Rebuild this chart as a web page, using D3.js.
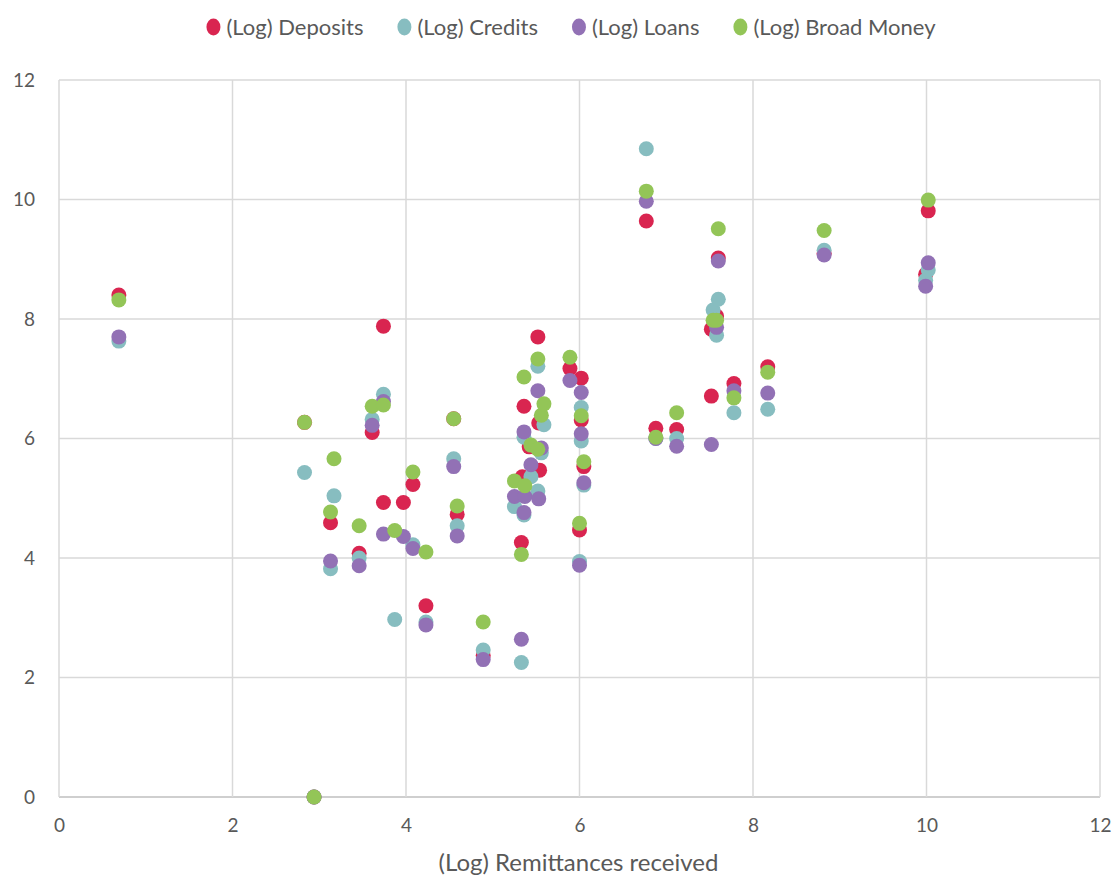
<!DOCTYPE html>
<html>
<head>
<meta charset="utf-8">
<script src="https://cdn.jsdelivr.net/npm/d3@7"></script>
<style>
  body { margin: 0; background: #fff; }
  svg text { font-family: Lato, "Open Sans", sans-serif; fill: #595959; }
</style>
</head>
<body>
<svg id="chart" width="1114" height="878"></svg>
<script>
// series names, drawing order = legend order
var seriesNames = ['(Log) Deposits', '(Log) Credits', '(Log) Loans', '(Log) Broad Money']
var xTicks = [0, 2, 4, 6, 8, 10, 12]
var yTicks = [0, 2, 4, 6, 8, 10, 12]

// [log remittances, value] pairs
var deposits = [
  [0.69, 8.40], [2.83, 6.27], [2.94, 0], [3.13, 4.59], [3.46, 4.08], [3.61, 6.10],
  [3.74, 7.88], [3.74, 4.93], [3.97, 4.93], [4.08, 5.23], [4.23, 3.20], [4.55, 6.33],
  [4.59, 4.73], [4.89, 2.37], [5.33, 4.26], [5.36, 6.54], [5.34, 5.36], [5.42, 5.86],
  [5.52, 7.70], [5.53, 6.26], [5.54, 5.47], [5.89, 7.17], [6.02, 7.01], [6.02, 6.31],
  [6.05, 5.53], [6.00, 4.47], [6.77, 9.64], [6.88, 6.17], [7.12, 6.15], [7.52, 6.71],
  [7.52, 7.83], [7.58, 8.05], [7.60, 9.02], [7.78, 6.92], [8.17, 7.20], [8.82, 9.10],
  [9.99, 8.75], [10.02, 9.81]
]
var credits = [
  [0.69, 7.63], [2.83, 5.43], [2.94, 0], [3.13, 3.82], [3.17, 5.04], [3.46, 4.00],
  [3.61, 6.32], [3.74, 6.74], [3.87, 2.97], [4.08, 4.22], [4.23, 2.93], [4.55, 5.66],
  [4.59, 4.54], [4.89, 2.46], [5.25, 4.86], [5.33, 2.25], [5.36, 6.02], [5.36, 4.72],
  [5.44, 5.36], [5.52, 7.21], [5.52, 5.12], [5.56, 5.76], [5.59, 6.23], [6.00, 3.94],
  [6.02, 6.52], [6.02, 5.96], [6.05, 5.22], [6.77, 10.85], [6.88, 6.00], [7.12, 6.00],
  [7.54, 8.15], [7.58, 7.73], [7.60, 8.33], [7.78, 6.43], [8.17, 6.49], [8.82, 9.15],
  [9.99, 8.65], [10.02, 8.82]
]
var loans = [
  [0.69, 7.70], [2.94, 0], [3.13, 3.95], [3.46, 3.87],
  [3.61, 6.22], [3.74, 6.62], [3.74, 4.40], [3.97, 4.36], [4.08, 4.16], [4.23, 2.88],
  [4.55, 5.53], [4.59, 4.37], [4.89, 2.30], [5.25, 5.03], [5.33, 2.64], [5.36, 6.11],
  [5.37, 5.03], [5.36, 4.76], [5.44, 5.56], [5.52, 6.80], [5.53, 4.99], [5.56, 5.84],
  [5.89, 6.97], [6.00, 3.88], [6.02, 6.77], [6.02, 6.08], [6.05, 5.26], [6.77, 9.97],
  [6.88, 6.00], [7.12, 5.87], [7.52, 5.90], [7.58, 7.86], [7.60, 8.97], [7.78, 6.80],
  [8.17, 6.76], [8.82, 9.07], [9.99, 8.55], [10.02, 8.94]
]
var broadMoney = [
  [0.69, 8.32], [2.83, 6.27], [2.94, 0], [3.13, 4.77], [3.17, 5.66], [3.46, 4.54],
  [3.61, 6.54], [3.74, 6.56], [3.87, 4.46], [4.08, 5.44], [4.23, 4.10], [4.55, 6.33],
  [4.59, 4.87], [4.89, 2.93], [5.25, 5.29], [5.36, 7.03], [5.33, 4.06], [5.37, 5.21],
  [5.44, 5.89], [5.52, 7.33], [5.52, 5.82], [5.56, 6.39], [5.59, 6.58], [5.89, 7.36],
  [6.00, 4.58], [6.02, 6.38], [6.05, 5.61], [6.77, 10.14], [6.88, 6.02], [7.12, 6.43],
  [7.54, 7.98], [7.58, 7.98], [7.60, 9.51], [7.78, 6.68], [8.17, 7.11], [8.82, 9.48],
  [10.02, 9.99]
]

var colors = ['#d92550', '#87bdc0', '#9271b5', '#93c557']
var allSeries = [deposits, credits, loans, broadMoney]

var margin = { left: 59, right: 14, top: 80, bottom: 81 }
var width = 1114 - margin.left - margin.right
var height = 878 - margin.top - margin.bottom

var x = d3.scaleLinear().domain([0, 12]).range([0, width])
var y = d3.scaleLinear().domain([0, 12]).range([height, 0])

var svg = d3.select('#chart')
var g = svg.append('g').attr('transform', 'translate(' + margin.left + ',' + margin.top + ')')

// gridlines
g.append('g').selectAll('line').data(yTicks).join('line')
  .attr('x1', 0).attr('x2', width)
  .attr('y1', d => y(d)).attr('y2', d => y(d))
  .attr('stroke', d => d === 0 ? '#bfbfbf' : '#d9d9d9')
  .attr('stroke-width', 1.5)
g.append('g').selectAll('line').data(xTicks).join('line')
  .attr('x1', d => x(d)).attr('x2', d => x(d))
  .attr('y1', 0).attr('y2', height)
  .attr('stroke', '#d9d9d9')
  .attr('stroke-width', 1.5)

// axes (labels only)
var yAxis = g.append('g').call(d3.axisLeft(y).tickValues(yTicks).tickSize(0).tickPadding(24))
yAxis.select('.domain').remove()
yAxis.selectAll('text').style('font-size', '19px')

var xAxis = g.append('g').attr('transform', 'translate(0,' + height + ')')
  .call(d3.axisBottom(x).tickValues(xTicks).tickSize(0).tickPadding(22))
xAxis.select('.domain').remove()
xAxis.selectAll('text').style('font-size', '19px')

svg.append('text')
  .attr('x', margin.left + width / 2 - 1)
  .attr('y', 871)
  .attr('text-anchor', 'middle')
  .style('font-size', '24px')
  .text('(Log) Remittances received')

// points
allSeries.forEach(function (data, i) {
  g.append('g').selectAll('circle').data(data).join('circle')
    .attr('cx', d => x(d[0]))
    .attr('cy', d => y(d[1]))
    .attr('r', 7.5)
    .attr('fill', colors[i])
})

// legend
var legend = svg.append('g')
var cursor = 0
seriesNames.forEach(function (name, i) {
  var item = legend.append('g').attr('transform', 'translate(' + cursor + ',0)')
  item.append('ellipse').attr('cx', 7).attr('cy', 0).attr('rx', 7).attr('ry', 8.5).attr('fill', colors[i])
  var t = item.append('text').attr('x', 20).attr('y', 7.5).style('font-size', '22px').text(name)
  cursor += 20 + t.node().getComputedTextLength() + 34
})
var legendWidth = cursor - 34
legend.attr('transform', 'translate(' + (571 - legendWidth / 2) + ',27)')
</script>
</body>
</html>
